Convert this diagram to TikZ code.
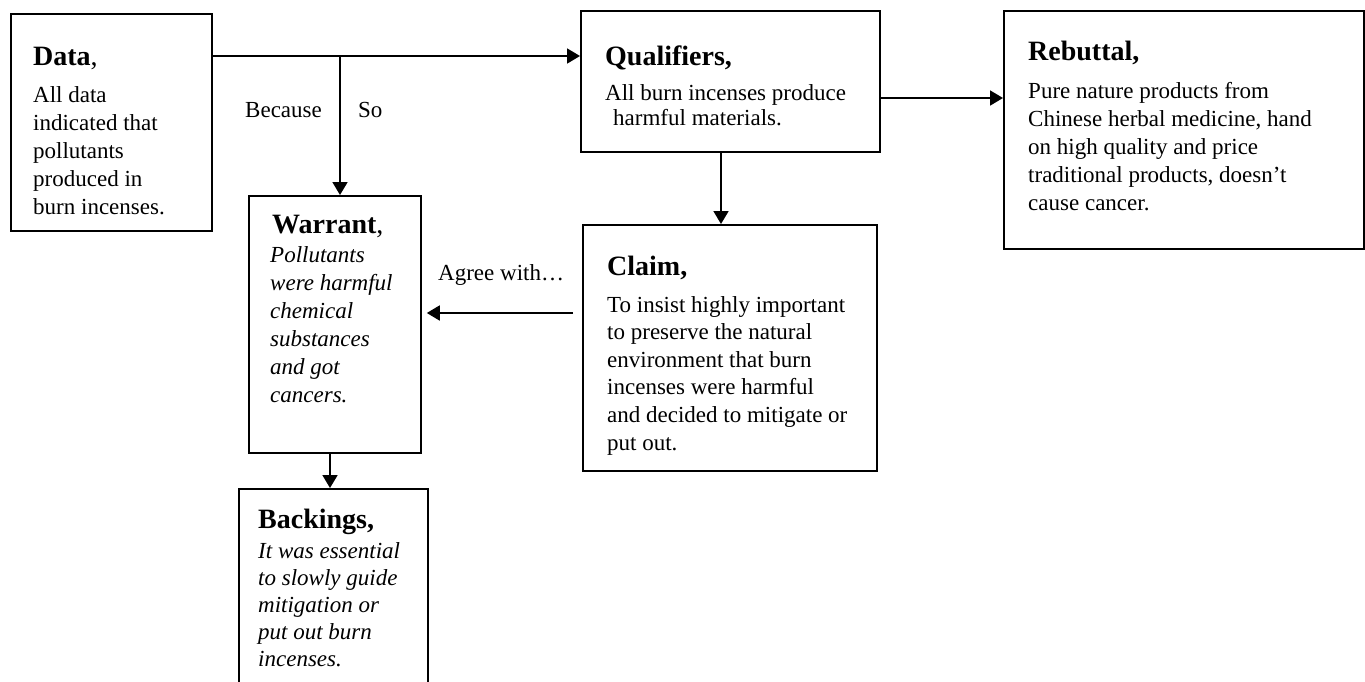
\documentclass[tikz,border=0pt]{standalone}
\usepackage{fontspec}
\setmainfont{Liberation Serif}
\usetikzlibrary{arrows.meta}
\begin{document}
\begin{tikzpicture}[x=1pt,y=-1pt,
  boxstyle/.style={draw,line width=1.8pt,rectangle,inner sep=0pt,anchor=north west},
  titlestyle/.style={anchor=base west,inner sep=0pt,font=\fontsize{28}{30}\selectfont\bfseries},
  bodystyle/.style={anchor=base west,inner sep=0pt,font=\fontsize{23}{#1}\selectfont},
  bodystyle/.default=28,
  conn/.style={line width=1.8pt,-{Triangle[length=13pt,width=15pt]}},
  labstyle/.style={anchor=base west,inner sep=0pt,font=\fontsize{23}{28}\selectfont}]
\useasboundingbox (0,0) rectangle (1365,681);
\clip (0,0) rectangle (1365,681);
\fill[white] (0,0) rectangle (1365,681);

% boxes
\node[boxstyle,minimum width=201pt,minimum height=217pt] (Data) at (10,13) {};
\node[boxstyle,minimum width=299pt,minimum height=141pt] (Qual) at (580,10) {};
\node[boxstyle,minimum width=360pt,minimum height=238pt] (Reb) at (1003,10) {};
\node[boxstyle,minimum width=294pt,minimum height=246pt] (Claim) at (582,224) {};
\node[boxstyle,minimum width=172pt,minimum height=257pt] (Warrant) at (248,195) {};
\node[boxstyle,minimum width=189pt,minimum height=230pt] (Back) at (238,488) {};

% texts
\node[titlestyle] (tData) at (33,65) {Data\textmd{,}};
\node[bodystyle] (bData) at (33,102) {\vtop{\hbox{All data}\hbox{indicated that}\hbox{pollutants}\hbox{produced in}\hbox{burn incenses.}}};

\node[titlestyle] (tQual) at (605,65) {Qualifiers,};
\node[bodystyle=25] (bQual) at (605,100) {\vtop{\hbox{All burn incenses produce}\hbox{\hspace*{8pt}harmful materials.}}};

\node[titlestyle] (tReb) at (1028,60) {Rebuttal,};
\node[bodystyle=28] (bReb) at (1028,98) {\vtop{\hbox{Pure nature products from}\hbox{Chinese herbal medicine, hand}\hbox{on high quality and price}\hbox{traditional products, doesn’t}\hbox{cause cancer.}}};

\node[titlestyle] (tClaim) at (607,275) {Claim,};
\node[bodystyle=27.6] (bClaim) at (607,312) {\vtop{\hbox{To insist highly important}\hbox{to preserve the natural}\hbox{environment that burn}\hbox{incenses were harmful}\hbox{and decided to mitigate or}\hbox{put out.}}};

\node[titlestyle] (tWar) at (272,233) {Warrant\textmd{,}};
\node[bodystyle=28] (bWar) at (270,262) {\itshape\vtop{\hbox{Pollutants}\hbox{were harmful}\hbox{chemical}\hbox{substances}\hbox{and got}\hbox{cancers.}}};

\node[titlestyle] (tBack) at (258,528) {Backings,};
\node[bodystyle=27] (bBack) at (258,558) {\itshape\vtop{\hbox{It was essential}\hbox{to slowly guide}\hbox{mitigation or}\hbox{put out burn}\hbox{incenses.}}};

% labels
\node[labstyle] (lBecause) at (245,117) {Because};
\node[labstyle] (lSo) at (358,117) {So};
\node[labstyle] (lAgree) at (438,280) {Agree with…};

% connectors
\coordinate (j) at (340,56);
\draw[line width=1.8pt] (Data.east |- j) -- (j);
\draw[conn] (j) -- (Qual.west |- j);
\draw[conn] (j) -- (j |- Warrant.north);
\coordinate (q) at (879,98);
\draw[conn] (Qual.east |- q) -- (Reb.west |- q);
\coordinate (qx) at (721,0);
\draw[conn] (Qual.south -| qx) -- (Claim.north -| qx);
\coordinate (a) at (0,313);
\draw[conn,shorten <=9pt,shorten >=5pt] (Claim.west |- a) -- (Warrant.east |- a);
\coordinate (wx) at (330,0);
\draw[conn] (Warrant.south -| wx) -- (Back.north -| wx);
\end{tikzpicture}
\end{document}
